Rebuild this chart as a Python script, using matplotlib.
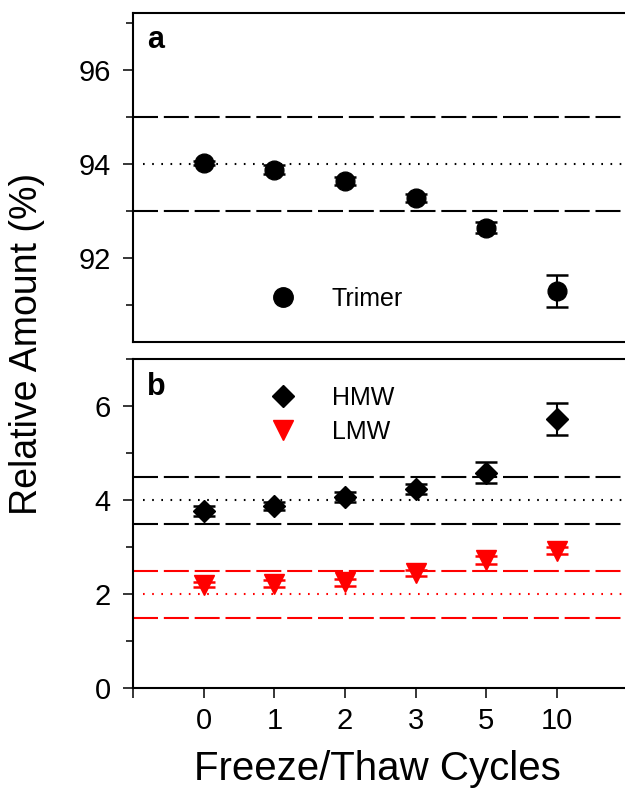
import numpy as np
import matplotlib
matplotlib.use('Agg')
import matplotlib.pyplot as plt
from matplotlib.lines import Line2D
from matplotlib.ticker import FixedLocator

plt.rcParams['font.family'] = ['Liberation Sans', 'DejaVu Sans']

# ── Data ───────────────────────────────────────────────────────────────────────
cycles = ['0', '1', '2', '3', '5', '10']
xpos = np.arange(1, len(cycles) + 1)

trimer     = [94.02, 93.88, 93.63, 93.27, 92.64, 91.29]
trimer_err = [0.05, 0.10, 0.09, 0.08, 0.12, 0.34]

hmw     = [3.77, 3.87, 4.06, 4.23, 4.58, 5.72]
hmw_err = [0.10, 0.08, 0.10, 0.10, 0.22, 0.34]

lmw     = [2.20, 2.22, 2.25, 2.45, 2.72, 2.92]
lmw_err = [0.06, 0.08, 0.07, 0.06, 0.08, 0.07]

# spec limits: (lower, target, upper)
trimer_spec = (93, 94, 95)
hmw_spec    = (3.5, 4, 4.5)
lmw_spec    = (1.5, 2, 2.5)

# ── Figure ─────────────────────────────────────────────────────────────────────
W, H = 625, 789
fig = plt.figure(figsize=(W / 100, H / 100), dpi=100)
fig.patch.set_facecolor('white')

def fx(px):
    return px / W

def fy(py):
    return 1 - py / H

left, right = fx(133), fx(627.6)
ax1 = fig.add_axes([left, fy(342), right - left, fy(13) - fy(342)])
ax2 = fig.add_axes([left, fy(688), right - left, fy(359) - fy(688)])

TICK_FS = 21
DASH = (0, (12, 2.8))
DOT = (0, (0.8, 3.6))


def style_axis(ax):
    for s in ['left', 'top', 'bottom']:
        ax.spines[s].set_linewidth(1.5)
    ax.spines['right'].set_visible(False)
    ax.set_xlim(0, 7)
    ax.tick_params(axis='y', which='major', direction='out', length=7, width=1.1,
                   labelsize=TICK_FS, pad=9)
    ax.tick_params(axis='y', which='minor', direction='out', length=5, width=1.1)


def spec_lines(ax, spec, color):
    lo, mid, hi = spec
    ax.axhline(lo, color=color, lw=1.5, linestyle=DASH, zorder=1)
    ax.axhline(hi, color=color, lw=1.5, linestyle=DASH, zorder=1)
    ax.axhline(mid, xmin=0.02, color=color, lw=1.5, linestyle=DOT, zorder=1)


# Panel a: trimer
style_axis(ax1)
ax1.set_ylim(90.21, 97.21)
ax1.set_yticks([92, 94, 96])
ax1.yaxis.set_minor_locator(FixedLocator([91, 93, 95, 97]))
ax1.set_xticks([])
spec_lines(ax1, trimer_spec, 'black')
ax1.errorbar(xpos, trimer, yerr=trimer_err, fmt='o', color='black', ms=13.5,
             elinewidth=1.5, capsize=8, capthick=1.8, zorder=3)
ax1.text(0.028, 0.918, 'a', transform=ax1.transAxes, fontsize=22,
         fontweight='bold', ha='left', va='center')
h_tri = Line2D([], [], marker='o', color='black', ls='none', ms=14)
ax1.legend([h_tri], ['Trimer'], loc='center left', frameon=False,
           bbox_to_anchor=(fx(272), fy(299)), bbox_transform=fig.transFigure,
           fontsize=18, handlelength=0.9, handletextpad=1.5, borderpad=0,
           borderaxespad=0)

# Panel b: HMW / LMW
style_axis(ax2)
ax2.set_ylim(0, 7)
ax2.set_yticks([0, 2, 4, 6])
ax2.yaxis.set_minor_locator(FixedLocator([1, 3, 5, 7]))
ax2.set_xticks(xpos)
ax2.set_xticklabels(cycles)
ax2.xaxis.set_minor_locator(FixedLocator([0, 7]))
ax2.tick_params(axis='x', which='both', direction='out', length=7, width=1.1,
                labelsize=TICK_FS, pad=7)
spec_lines(ax2, hmw_spec, 'black')
spec_lines(ax2, lmw_spec, 'red')
ax2.errorbar(xpos, hmw, yerr=hmw_err, fmt='D', color='black', ms=11,
             elinewidth=1.5, capsize=8, capthick=1.8, zorder=3)
ax2.errorbar(xpos, lmw, yerr=lmw_err, fmt='v', color='red', ms=14,
             elinewidth=1.5, capsize=8, capthick=1.8, zorder=3)
ax2.text(0.028, 0.915, 'b', transform=ax2.transAxes, fontsize=22,
         fontweight='bold', ha='left', va='center')
h_hmw = Line2D([], [], marker='D', color='black', ls='none', ms=11)
h_lmw = Line2D([], [], marker='v', color='red', ls='none', ms=14)
ax2.legend([h_hmw, h_lmw], ['HMW', 'LMW'], loc='center left', frameon=False,
           bbox_to_anchor=(fx(272), fy(415)), bbox_transform=fig.transFigure,
           fontsize=18, handlelength=0.9, handletextpad=1.5, borderpad=0,
           borderaxespad=0, labelspacing=0.4)

# Axis titles
fig.text(fx(27), fy(344), 'Relative Amount (%)', rotation=90, fontsize=27,
         ha='center', va='center')
fig.text(fx(377), fy(769), 'Freeze/Thaw Cycles', fontsize=29,
         ha='center', va='center')

fig.savefig('out.png', dpi=100, facecolor='white')
